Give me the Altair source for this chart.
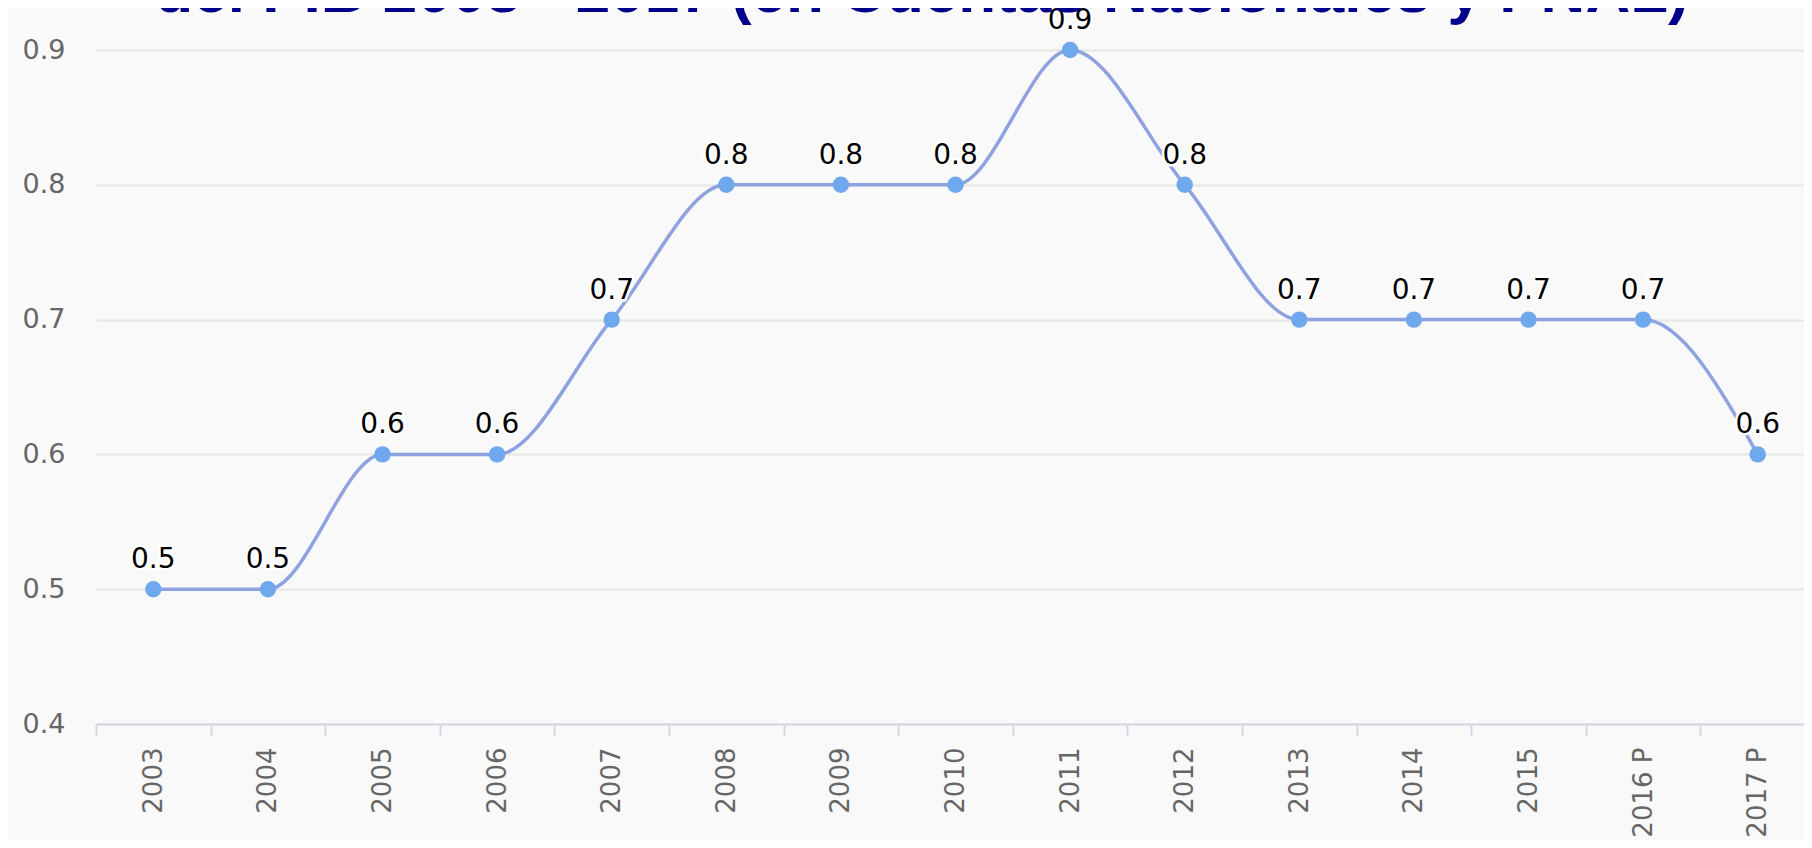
import altair as alt
import pandas as pd

# ---- data ----
years = ["2003", "2004", "2005", "2006", "2007", "2008", "2009", "2010",
         "2011", "2012", "2013", "2014", "2015", "2016 P", "2017 P"]
values = [0.5, 0.5, 0.6, 0.6, 0.7, 0.8, 0.8, 0.8, 0.9, 0.8, 0.7, 0.7, 0.7, 0.7, 0.6]
y_ticks = [0.4, 0.5, 0.6, 0.7, 0.8, 0.9]
title_text = ["del PIB 2003 - 2017 (en Cuentas Nacionales y PNAL)"]

df = pd.DataFrame({"year": years, "value": values})
tdf = pd.DataFrame({"t": title_text})

AX_COL = "#666666"
FONT = "DejaVu Sans"

x_enc = alt.X(
    "year:N", sort=years,
    scale=alt.Scale(range=[0, 1719], paddingInner=0, paddingOuter=0),
    axis=alt.Axis(title=None, labelAngle=270, labelAlign="right", labelBaseline="middle",
                  labelFontSize=26, labelFont=FONT, labelColor=AX_COL,
                  tickSize=12, tickColor="#d3d8e4", tickWidth=2,
                  domainColor="#d3d8e4", domainWidth=2,
                  labelPadding=11, tickBand="extent", grid=False),
)
y_enc = alt.Y(
    "value:Q",
    scale=alt.Scale(domain=[0.4, 0.9], nice=False, zero=False),
    axis=alt.Axis(title=None, values=y_ticks, format=".1f", domain=False, ticks=False,
                  labelFontSize=27, labelFont=FONT, labelColor=AX_COL, labelPadding=31,
                  labelAlign="right", labelBaseline="middle",
                  gridColor="#e6e6e6", gridWidth=2),
)

base = alt.Chart(df).encode(x=x_enc, y=y_enc)

line = base.mark_line(interpolate="monotone", color="#8fa2e0", strokeWidth=3.5)
pts = base.mark_point(filled=True, size=270, color="#6fa8ec", opacity=1)
halo = base.mark_text(dy=-21, baseline="alphabetic", fontSize=28, font=FONT,
                      stroke="white", strokeWidth=5, color="white").encode(
    text=alt.Text("value:Q", format=".1f"))
labels = base.mark_text(dy=-21, baseline="alphabetic", fontSize=28, font=FONT,
                        color="#000000").encode(text=alt.Text("value:Q", format=".1f"))

title = alt.Chart(tdf).mark_text(
    font="Liberation Sans", fontWeight="bold", fontSize=62, color="#00008b",
    align="center", baseline="alphabetic",
).encode(text="t:N", x=alt.value(826), y=alt.value(-38))

chart = alt.layer(line, pts, halo, labels, title).properties(
    width=1708, height=674,
    autosize=alt.AutoSizeParams(type="none"),
    padding={"left": 88, "top": 42, "right": 0, "bottom": 116},
    background="#f9f9f9",
).configure_view(stroke=None)

chart.save("out.html", embed_options={"renderer": "svg", "actions": False})
